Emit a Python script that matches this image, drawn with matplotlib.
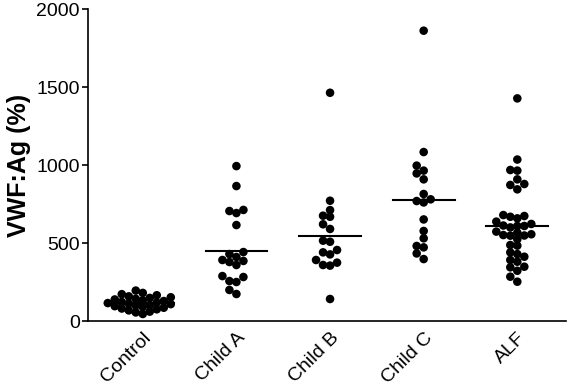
import numpy as np
import matplotlib
matplotlib.use("Agg")
import matplotlib.pyplot as plt

plt.rcParams['font.family'] = ['Liberation Sans', 'DejaVu Sans']

groups = ['Control', 'Child A', 'Child B', 'Child C', 'ALF']
control = [45, 55, 60, 68, 75, 80, 85, 90, 95, 100, 102, 108, 112, 115, 118, 122,
           128, 132, 138, 142, 148, 152, 158, 165, 172, 180, 195]
child_a = [993, 865, 712, 692, 705, 615, 429, 442, 391, 378, 410, 385, 359,
           288, 250, 282, 256, 199, 173]
child_b = [1463, 771, 711, 675, 668, 620, 590, 515, 508, 455, 440, 427, 391,
           359, 374, 355, 141]
child_c = [1861, 1083, 996, 964, 946, 908, 814, 780, 760, 769, 651, 577, 530,
           481, 472, 433, 397]
alf = [1427, 1035, 964, 968, 908, 878, 844, 872, 673, 658, 679, 668, 637, 609,
       622, 609, 612, 600, 573, 551, 566, 547, 556, 524, 548, 487, 483, 440,
       429, 412, 380, 348, 322, 391, 344, 284, 252]
medians = [115, 450, 548, 778, 606]
data = [control, child_a, child_b, child_c, alf]

W, H = 567, 389
fig = plt.figure(figsize=(W / 100, H / 100), dpi=100)
ax = fig.add_axes([88 / W, 1 - 321 / H, 478 / W, 312 / H])
xlo, xhi = -0.585, 4.52
ax.set_xlim(xlo, xhi)
ax.set_ylim(0, 2000)

# simple beeswarm in pixel space
px_x = 478 / (xhi - xlo)
px_y = 312 / 2000
diam = 7.5
step = 7.0
for i, vals in enumerate(data):
    placed = []
    order = np.argsort(vals)
    xs = np.zeros(len(vals))
    for j in order:
        yp = vals[j] * px_y
        k = 0
        while True:
            cands = [0] if k == 0 else [-k * step, k * step]
            ok = None
            for c in cands:
                if all((c - a) ** 2 + (yp - b) ** 2 >= (diam * 0.85) ** 2 for a, b in placed):
                    ok = c
                    break
            if ok is not None:
                placed.append((ok, yp))
                xs[j] = ok
                break
            k += 1
    ax.plot([i - 0.33, i + 0.33], [medians[i], medians[i]], color='black', lw=1.5, zorder=2)
    ax.scatter(i + xs / px_x, vals, s=38, color='black', edgecolors='none', zorder=3)

ax.spines['top'].set_visible(False)
ax.spines['right'].set_visible(False)
ax.spines['left'].set_linewidth(1.2)
ax.spines['bottom'].set_linewidth(1.2)
ax.set_yticks([0, 500, 1000, 1500, 2000])
ax.tick_params(axis='y', labelsize=14, length=4, width=1.2, pad=2)
ax.set_xticks(range(5))
ax.set_xticklabels(groups, rotation=45, ha='right', rotation_mode='anchor', fontsize=14)
ax.tick_params(axis='x', length=0, pad=6)
ax.set_ylabel('VWF:Ag (%)', fontsize=18, fontweight='bold', labelpad=4)

fig.savefig('out.png', dpi=100)
